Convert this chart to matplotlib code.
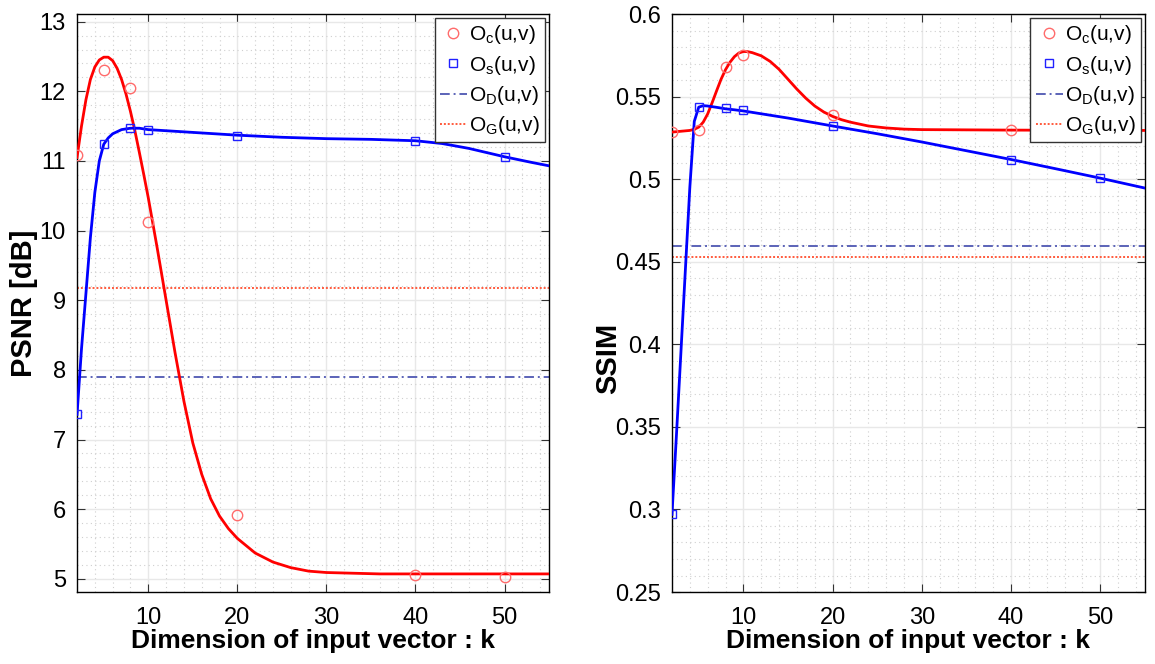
import matplotlib
matplotlib.use("Agg")
import matplotlib.pyplot as plt
from matplotlib.ticker import MultipleLocator, FuncFormatter

plt.rcParams['font.family'] = ['Liberation Sans', 'DejaVu Sans']
plt.rcParams['mathtext.default'] = 'regular'

# --- measured points (markers) ---
k_pts = [2, 5, 8, 10, 20, 40, 50]
psnr_c_pts = [11.08, 12.31, 12.05, 10.13, 5.92, 5.05, 5.03]
psnr_s_pts = [7.36, 11.24, 11.47, 11.45, 11.36, 11.28, 11.05]
ssim_c_pts = [0.5285, 0.530, 0.568, 0.575, 0.5386, 0.530, 0.530]
ssim_s_pts = [0.297, 0.5436, 0.5428, 0.5418, 0.5320, 0.5119, 0.5006]

# --- fitted curves ---
psnr_c_x = [2, 2.5, 3, 3.5, 4, 4.5, 5, 5.5, 6, 6.5, 7, 7.5, 8, 8.5, 9, 9.5, 10,
            11, 12, 13, 14, 15, 16, 17, 18, 19, 20, 22, 24, 26, 28, 30, 33, 36,
            40, 45, 50, 55]
psnr_c_y = [11.05, 11.5, 11.88, 12.17, 12.35, 12.45, 12.49, 12.49, 12.44, 12.33,
            12.17, 11.96, 11.71, 11.43, 11.12, 10.8, 10.47, 9.75, 9.0, 8.25, 7.55,
            6.95, 6.5, 6.15, 5.9, 5.72, 5.58, 5.37, 5.24, 5.16, 5.11, 5.09, 5.08,
            5.07, 5.07, 5.07, 5.07, 5.07]
psnr_s_x = [2, 2.5, 3, 3.5, 4, 4.5, 5, 5.5, 6, 7, 8, 9, 10, 15, 20, 25, 30, 35,
            40, 43, 46, 50, 53, 55]
psnr_s_y = [7.36, 8.3, 9.1, 9.9, 10.55, 11.0, 11.24, 11.33, 11.39, 11.45, 11.47,
            11.47, 11.45, 11.41, 11.37, 11.34, 11.32, 11.31, 11.29, 11.25, 11.18,
            11.06, 10.98, 10.93]
ssim_c_x = [2, 3, 4, 4.5, 5, 5.5, 6, 6.5, 7, 7.5, 8, 8.5, 9, 9.5, 10, 10.5, 11,
            12, 13, 14, 15, 16, 17, 18, 19, 20, 21, 22, 24, 26, 28, 30, 40, 55]
ssim_c_y = [0.5285, 0.529, 0.5295, 0.5302, 0.5315, 0.5345, 0.5395, 0.5463,
            0.5535, 0.5605, 0.5663, 0.5708, 0.5742, 0.5764, 0.5773, 0.5772,
            0.5766, 0.5747, 0.5713, 0.5665, 0.5605, 0.5545, 0.549, 0.5443, 0.5407,
            0.538, 0.536, 0.5345, 0.5322, 0.531, 0.5303, 0.530, 0.5297, 0.5295]
ssim_s_x = [2, 2.5, 3, 3.5, 4, 4.5, 5, 5.5, 6, 7, 8, 9, 10, 15, 20, 25, 30, 35,
            40, 45, 50, 55]
ssim_s_y = [0.297, 0.345, 0.395, 0.445, 0.495, 0.535, 0.5436, 0.5445, 0.5443,
            0.5435, 0.5426, 0.542, 0.5413, 0.537, 0.5322, 0.5275, 0.5225, 0.5172,
            0.5119, 0.5063, 0.5006, 0.4946]

# --- baselines ---
psnr_D = 7.90
psnr_G = 9.17
ssim_D = 0.4595
ssim_G = 0.4527

labels = [r'O$_c$(u,v)', r'O$_s$(u,v)', r'O$_D$(u,v)', r'O$_G$(u,v)']


def draw(ax, cx, cy, sx, sy, pts_c, pts_s, base_D, base_G):
    ax.plot(cx, cy, color='#ff0000', lw=2, zorder=3)
    ax.plot(sx, sy, color='#0000ff', lw=2, zorder=3)
    h1, = ax.plot(k_pts, pts_c, 'o', ms=7.5, mfc='none', mec='#ff6b6b',
                  mew=1, zorder=4)
    h2, = ax.plot(k_pts, pts_s, 's', ms=6, mfc='none', mec='#2020ff',
                  mew=1, zorder=4)
    h3 = ax.axhline(base_D, color='#5b63b8', lw=1.4, ls=(0, (5, 2, 1, 2)), zorder=2)
    h4 = ax.axhline(base_G, color='#ff5a3c', lw=1.4, ls=(0, (1, 1)), zorder=2)

    ax.set_xlim(2, 55)
    ax.xaxis.set_major_locator(MultipleLocator(10))
    ax.xaxis.set_minor_locator(MultipleLocator(2))
    ax.grid(True, which='major', color='#e8e8e8', lw=1, ls='-')
    ax.grid(True, which='minor', color='#cfcfcf', lw=0.8, ls=(0, (1, 3)))
    ax.set_axisbelow(True)
    ax.tick_params(which='both', direction='in', top=True, right=True,
                   labelsize=17, color='#333333')
    ax.tick_params(which='major', length=6)
    ax.tick_params(axis='x', which='major', pad=11)
    ax.tick_params(axis='y', which='major', pad=8)
    ax.tick_params(which='minor', length=0)
    for sp in ax.spines.values():
        sp.set_linewidth(1)
    ax.set_xlabel('Dimension of input vector : k', fontsize=19,
                  fontweight='bold', labelpad=0)

    leg = ax.legend([h1, h2, h3, h4], labels, loc='upper right', fontsize=15,
                    frameon=True, fancybox=False, framealpha=1,
                    edgecolor='#333333', borderaxespad=0.2, handlelength=1.3,
                    handletextpad=0.1, labelspacing=0.35, borderpad=0.25)
    leg.get_frame().set_linewidth(1)
    leg.set_zorder(10)


fig = plt.figure(figsize=(11.55, 6.64), dpi=100)
ax1 = fig.add_axes([0.0667, 0.1084, 0.4087, 0.8705])
ax2 = fig.add_axes([0.5818, 0.1084, 0.4095, 0.8705])

draw(ax1, psnr_c_x, psnr_c_y, psnr_s_x, psnr_s_y, psnr_c_pts, psnr_s_pts,
     psnr_D, psnr_G)
ax1.set_ylim(4.81, 13.11)
ax1.yaxis.set_major_locator(MultipleLocator(1))
ax1.yaxis.set_minor_locator(MultipleLocator(0.2))
ax1.set_ylabel('PSNR [dB]', fontsize=21, fontweight='bold')
ax1.yaxis.set_label_coords(-0.082, 0.5)

draw(ax2, ssim_c_x, ssim_c_y, ssim_s_x, ssim_s_y, ssim_c_pts, ssim_s_pts,
     ssim_D, ssim_G)
ax2.set_ylim(0.25, 0.6)
ax2.yaxis.set_major_locator(MultipleLocator(0.05))
ax2.yaxis.set_minor_locator(MultipleLocator(0.01))
ax2.yaxis.set_major_formatter(FuncFormatter(lambda v, p: '%g' % round(v, 2)))
ax2.set_ylabel('SSIM', fontsize=21, fontweight='bold')
ax2.yaxis.set_label_coords(-0.106, 0.405)

fig.savefig('out.png', dpi=100)
